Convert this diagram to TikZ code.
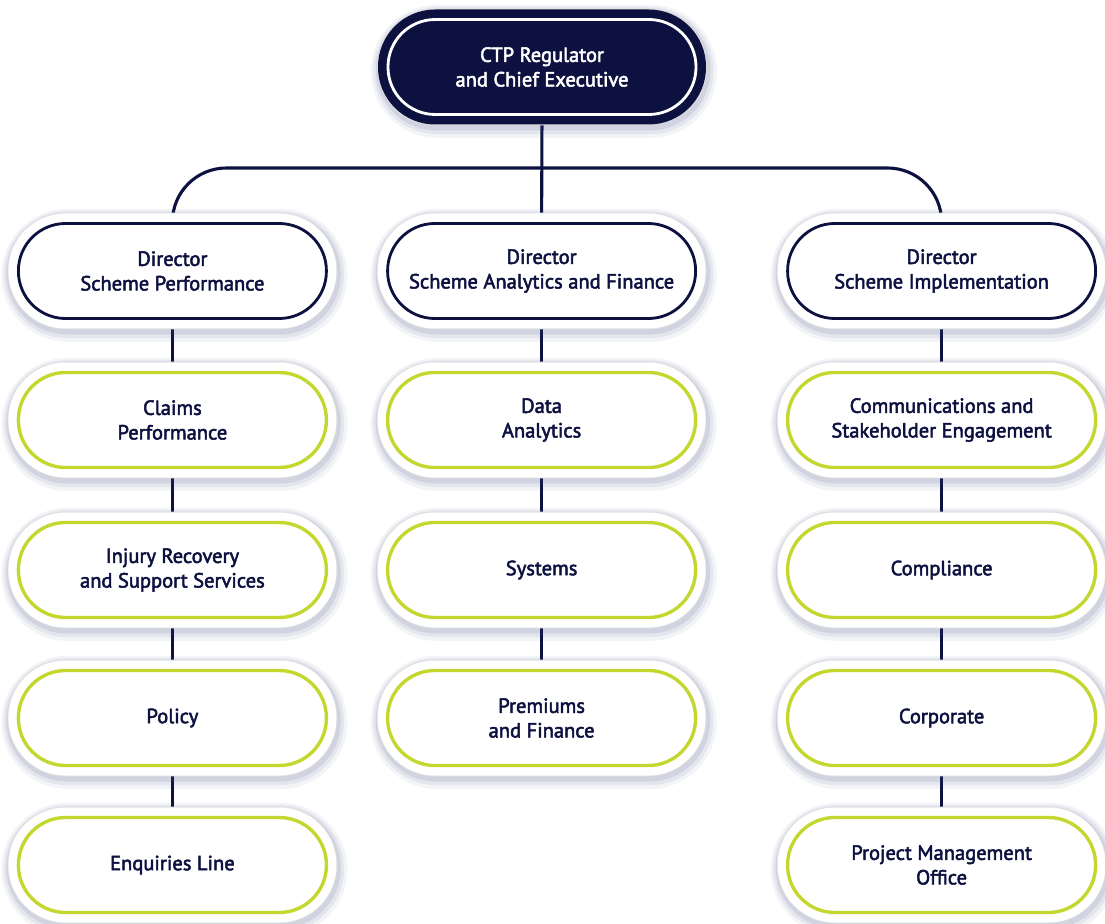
\documentclass[tikz,border=0pt]{standalone}
\usepackage{fontspec}
\usepackage{tikz}
\usetikzlibrary{backgrounds}
\newfontfamily\orgfont{PT Sans}[FakeBold=2.5]
\definecolor{navy}{HTML}{0C1140}
\definecolor{lime}{HTML}{C3D72F}
\definecolor{shade}{HTML}{3C4478}
\tikzset{
  pill/.style={rectangle, rounded corners=1.18cm, minimum width=7.7cm, minimum height=2.375cm,
    align=center, line width=2pt, font=\orgfont\fontsize{14.6}{17.5}\selectfont,
    preaction={draw=shade, opacity=0.06, line width=0.95cm, transform canvas={xshift=0.05cm, yshift=-0.11cm}},
    preaction={draw=shade, opacity=0.08, line width=0.8cm, transform canvas={xshift=0.04cm, yshift=-0.09cm}},
    preaction={draw=shade, opacity=0.11, line width=0.66cm, transform canvas={xshift=0.03cm, yshift=-0.07cm}},
    preaction={draw=gray!25, line width=0.54cm}},
  head/.style={pill, fill=navy, draw=white, text=white, preaction={draw=navy, line width=0.5cm}},
  director/.style={pill, fill=white, draw=navy, text=navy, preaction={draw=white, line width=0.5cm}},
  unit/.style={pill, fill=white, draw=lime, text=navy, line width=2.4pt, preaction={draw=white, line width=0.5cm}},
  link/.style={navy, line width=2.2pt}
}

\begin{document}
\begin{tikzpicture}
    \useasboundingbox (0, 0) rectangle (27.625, -23.1);

    % Nodes
    \node[head] (ceo) at (13.55, -1.675) {CTP Regulator\\and Chief Executive};

    \node[director] (dsp) at (4.31, -6.775) {Director\\Scheme Performance};
    \node[director] (dsa) at (13.54, -6.775) {Director\\Scheme Analytics and Finance};
    \node[director] (dsi) at (23.54, -6.775) {Director\\Scheme Implementation};

    \node[unit] (cp) at (4.31, -10.5) {Claims\\Performance};
    \node[unit] (irs) at (4.31, -14.25) {Injury Recovery\\and Support Services};
    \node[unit] (pol) at (4.31, -17.95) {Policy};
    \node[unit] (enq) at (4.31, -21.625) {Enquiries Line};

    \node[unit] (da) at (13.54, -10.5) {Data\\Analytics};
    \node[unit] (sys) at (13.54, -14.25) {Systems};
    \node[unit] (pf) at (13.54, -17.95) {Premiums\\and Finance};

    \node[unit] (cse) at (23.54, -10.5) {Communications and\\Stakeholder Engagement};
    \node[unit] (comp) at (23.54, -14.25) {Compliance};
    \node[unit] (corp) at (23.54, -17.95) {Corporate};
    \node[unit] (pmo) at (23.54, -21.625) {Project Management\\Office};

    \coordinate (bus) at (13.55, -4.2);

    % Edges
    \begin{scope}[on background layer]
        \fill[white] (0, 0) rectangle (27.625, -23.1);
        \draw[link, rounded corners=1.35cm] (dsp.north) |- (bus) -| (dsi.north);
        \draw[link] (ceo.south) -- (dsa.north);
        \draw[link] (dsp) -- (cp) -- (irs) -- (pol) -- (enq);
        \draw[link] (dsa) -- (da) -- (sys) -- (pf);
        \draw[link] (dsi) -- (cse) -- (comp) -- (corp) -- (pmo);
    \end{scope}
\end{tikzpicture}
\end{document}
